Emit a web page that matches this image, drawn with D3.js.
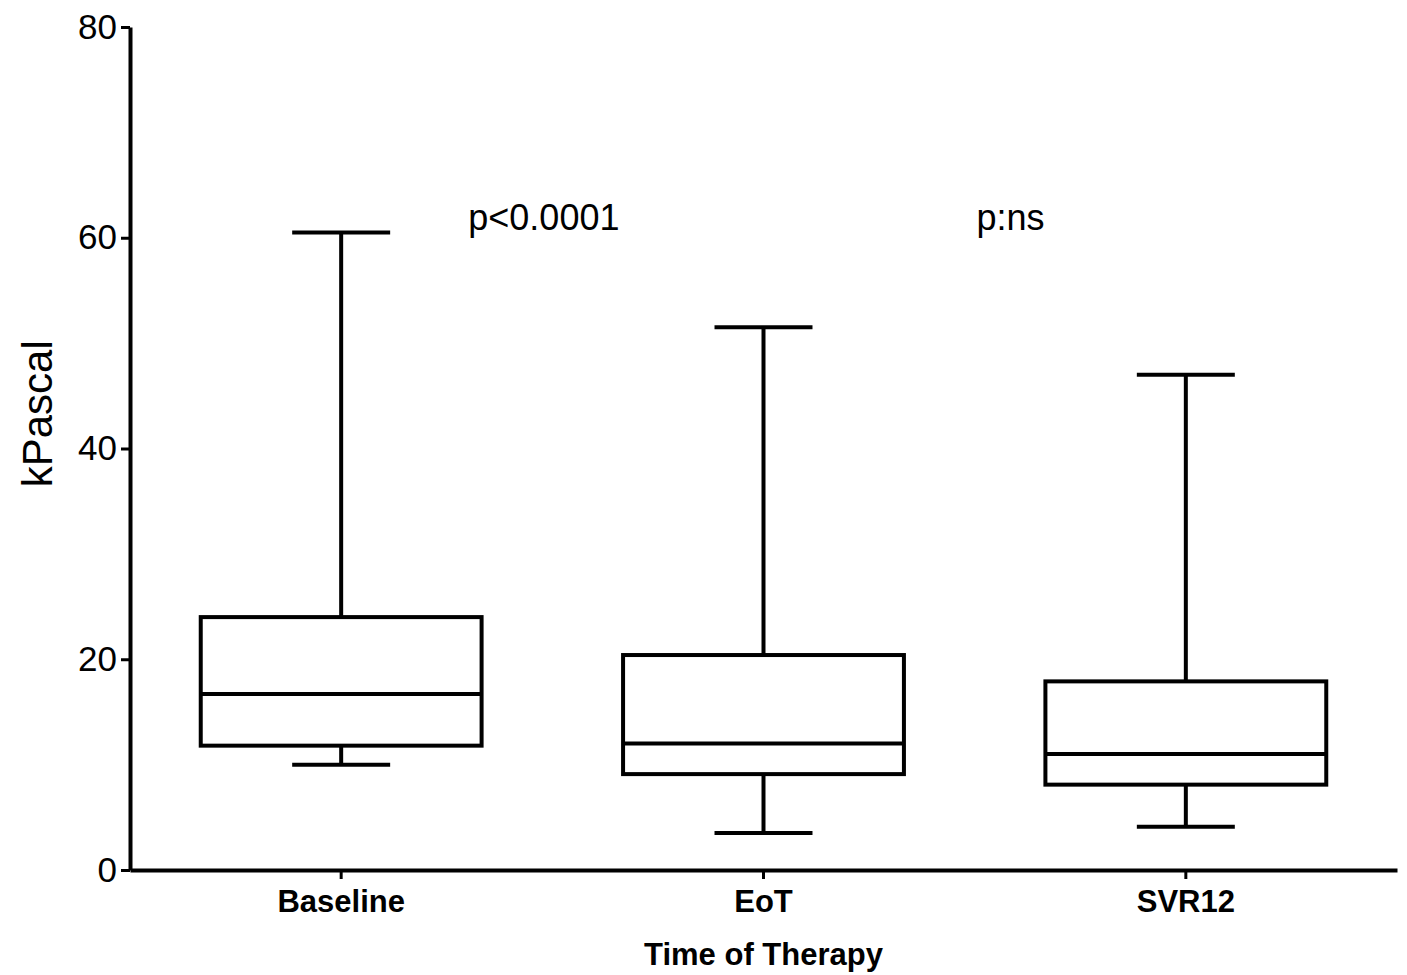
<!DOCTYPE html>
<html>
<head>
<meta charset="utf-8">
<script src="https://cdn.jsdelivr.net/npm/d3@7"></script>
<style>
  body { margin: 0; background: #fff; }
  text { font-family: "Liberation Sans", Arial, sans-serif; fill: #000; }
</style>
</head>
<body>
<div id="container"></div>
<script>
// data
var groups = ["Baseline", "EoT", "SVR12"];
var whiskerLow = [10.0, 3.5, 4.1];
var q1 = [11.8, 9.1, 8.1];
var median = [16.7, 12.0, 11.0];
var q3 = [24.0, 20.4, 17.9];
var whiskerHigh = [60.5, 51.5, 47.0];
var yTicks = [0, 20, 40, 60, 80];
var notes = [{ text: "p<0.0001", at: 0.98 }, { text: "p:ns", at: 2.085 }];

var size = { width: 1407, height: 975 };
var margin = { top: 27, right: 10, bottom: 105, left: 130 };

var svg = d3.select("#container").append("svg")
    .attr("width", size.width).attr("height", size.height);

var x = d3.scaleBand().domain(groups)
    .range([margin.left, size.width - margin.right]);
var y = d3.scaleLinear().domain([0, 80])
    .range([size.height - margin.bottom, margin.top]);

var boxW = x.bandwidth() * 0.665;
var capW = x.bandwidth() * 0.232;

var rows = groups.map(function (g, i) {
    return { name: g, lo: whiskerLow[i], q1: q1[i], med: median[i], q3: q3[i], hi: whiskerHigh[i] };
});

var box = svg.append("g").selectAll("g").data(rows).enter().append("g")
    .attr("transform", function (d) { return "translate(" + (x(d.name) + x.bandwidth() / 2) + ",0)"; })
    .attr("stroke", "#000").attr("stroke-width", 4).attr("fill", "none");

// whiskers
box.append("line").attr("x1", 0).attr("x2", 0)
    .attr("y1", function (d) { return y(d.hi); }).attr("y2", function (d) { return y(d.q3); });
box.append("line").attr("x1", 0).attr("x2", 0)
    .attr("y1", function (d) { return y(d.q1); }).attr("y2", function (d) { return y(d.lo); });
box.append("line").attr("x1", -capW / 2).attr("x2", capW / 2)
    .attr("y1", function (d) { return y(d.hi); }).attr("y2", function (d) { return y(d.hi); });
box.append("line").attr("x1", -capW / 2).attr("x2", capW / 2)
    .attr("y1", function (d) { return y(d.lo); }).attr("y2", function (d) { return y(d.lo); });
// box + median
box.append("rect").attr("x", -boxW / 2).attr("width", boxW)
    .attr("y", function (d) { return y(d.q3); })
    .attr("height", function (d) { return y(d.q1) - y(d.q3); })
    .attr("fill", "#fff");
box.append("line").attr("x1", -boxW / 2).attr("x2", boxW / 2)
    .attr("y1", function (d) { return y(d.med); }).attr("y2", function (d) { return y(d.med); });

// axes
var yAxis = svg.append("g").attr("transform", "translate(" + margin.left + ",0)")
    .call(d3.axisLeft(y).tickValues(yTicks).tickSize(9).tickPadding(4).tickSizeOuter(0));
var xAxis = svg.append("g").attr("transform", "translate(0," + y(0) + ")")
    .call(d3.axisBottom(x).tickSize(9).tickPadding(11).tickSizeOuter(0));
[yAxis, xAxis].forEach(function (a) {
    a.select(".domain").attr("stroke", "#000").attr("stroke-width", 4);
    a.selectAll(".tick line").attr("stroke", "#000").attr("stroke-width", 3);
});
yAxis.selectAll("text").attr("font-size", 35).attr("font-family", "Liberation Sans, Arial, sans-serif").attr("fill", "#000");
xAxis.selectAll("text").attr("font-size", 31).attr("font-weight", "bold")
    .attr("font-family", "Liberation Sans, Arial, sans-serif").attr("fill", "#000");

// axis titles
svg.append("text").attr("transform", "translate(52," + y(43.3) + ") rotate(-90)")
    .attr("text-anchor", "middle").attr("font-size", 42).text("kPascal");
svg.append("text").attr("x", x("EoT") + x.bandwidth() / 2).attr("y", 965)
    .attr("text-anchor", "middle").attr("font-size", 31).attr("font-weight", "bold")
    .text("Time of Therapy");

// significance notes
svg.append("g").selectAll("text").data(notes).enter().append("text")
    .attr("x", function (d) { return margin.left + x.bandwidth() * d.at; })
    .attr("y", y(60.7))
    .attr("text-anchor", "middle").attr("font-size", 36)
    .text(function (d) { return d.text; });
</script>
</body>
</html>
